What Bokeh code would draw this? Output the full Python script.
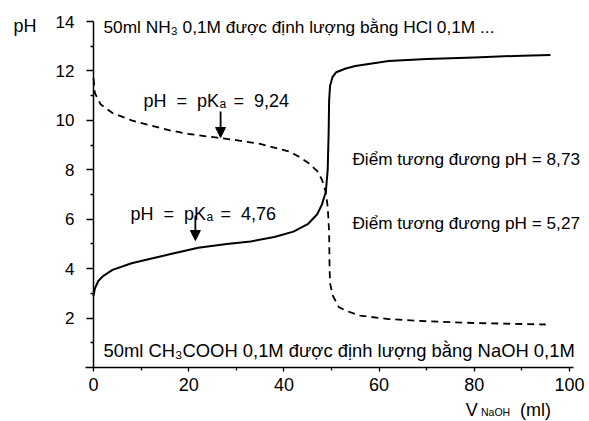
from bokeh.plotting import figure
from bokeh.models import Range1d, FixedTicker, Label, Arrow, NormalHead, ColumnDataSource
from bokeh.embed import file_html
from bokeh.resources import INLINE

# ---- data ----
# CH3COOH 0,1M titrated with NaOH 0,1M (solid)
v_acid = [0, 0.3, 1, 2, 4, 8, 12, 16, 22, 28, 33, 38, 42, 45, 47, 48, 48.8,
          49.2, 49.4, 49.5, 49.7, 50.2, 51, 53, 55, 62, 70, 80, 90, 96]
ph_acid = [2.9, 3.2, 3.5, 3.7, 3.95, 4.22, 4.4, 4.58, 4.85, 5.0, 5.1, 5.28, 5.5,
           5.8, 6.2, 6.6, 7.1, 8.0, 9.5, 10.8, 11.4, 11.75, 11.95, 12.1, 12.2,
           12.4, 12.48, 12.55, 12.62, 12.65]
# NH3 0,1M titrated with HCl 0,1M (dashed)
v_base = [0, 0.3, 1.5, 4, 8, 12, 16, 20, 26, 30, 35, 41, 43, 45, 47, 48, 48.8,
          49.2, 49.5, 49.6, 49.7, 50.3, 51.5, 53, 56, 62, 70, 80, 90, 95]
ph_base = [11.7, 11.1, 10.65, 10.3, 10.0, 9.8, 9.6, 9.45, 9.3, 9.2, 9.05, 8.75,
           8.55, 8.3, 7.95, 7.6, 7.1, 6.5, 5.5, 4.0, 3.4, 2.9, 2.45, 2.3, 2.1,
           1.96, 1.87, 1.8, 1.76, 1.74]
x_ticks = [0, 20, 40, 60, 80, 100]
x_minor = [10, 30, 50, 70, 90]
y_ticks = [2, 4, 6, 8, 10, 12, 14]
y_minor = [1, 3, 5, 7, 9, 11, 13]

FONT = "Liberation Sans"
NB = "\u00a0"
PX_X = 4.76   # pixels per ml
PX_Y = 24.71  # pixels per pH unit

p = figure(width=589, height=421, output_backend="svg", toolbar_location=None,
           title=None,
           x_range=Range1d(-93 / PX_X, (589 - 93) / PX_X),
           y_range=Range1d(-(421 - 367) / PX_Y, 367 / PX_Y),
           min_border_left=0, min_border_right=0, min_border_top=0,
           min_border_bottom=0)
p.outline_line_color = None
p.grid.visible = False
p.background_fill_color = "white"
p.border_fill_color = "white"

for ax in (p.xaxis[0], p.yaxis[0]):
    ax.fixed_location = 0
    ax.axis_line_color = "black"
    ax.axis_line_width = 1.5
    ax.major_tick_line_color = "black"
    ax.minor_tick_line_color = "black"
    ax.major_tick_line_width = 1.3
    ax.minor_tick_line_width = 1.3
    ax.major_tick_in = 0
    ax.minor_tick_in = 0
    ax.major_label_text_font = FONT
    ax.major_label_text_color = "black"

p.xaxis.bounds = (-1.7, 100.8)
p.yaxis.bounds = (0, 14)
p.xaxis.ticker = FixedTicker(ticks=x_ticks, minor_ticks=x_minor)
p.yaxis.ticker = FixedTicker(ticks=y_ticks, minor_ticks=y_minor)
p.xaxis.major_tick_out = 4
p.xaxis.minor_tick_out = 3
p.yaxis.major_tick_out = 7
p.yaxis.minor_tick_out = 3
p.xaxis.major_label_standoff = 6
p.yaxis.major_label_standoff = 12
p.xaxis.major_label_text_font_size = "18px"
p.yaxis.major_label_text_font_size = "17px"

src_a = ColumnDataSource(dict(v=v_acid, ph=ph_acid))
src_b = ColumnDataSource(dict(v=v_base, ph=ph_base))
p.line("v", "ph", source=src_a, line_color="black", line_width=2)
p.line("v", "ph", source=src_b, line_color="black", line_width=1.8, line_dash="7 5")

def lab(x, y, text, size="17px", align="left"):
    p.add_layout(Label(x=x, y=y, text=text, text_font=FONT, text_font_size=size,
                       text_color="black", text_align=align,
                       text_baseline="alphabetic"))

# axis titles
lab(-16.8, 13.84, "pH", size="18px")
lab(78.2, -1.74, "V", size="18px")
lab(81.4, -1.82, "NaOH", size="10.5px")
lab(89.6, -1.74, "(ml)", size="18px")

# curve descriptions
lab(2.1, 13.76, "50ml NH₃ 0,1M được định lượng bằng HCl 0,1M ...", size="17.3px")
lab(2.1, 0.69, "50ml CH₃COOH 0,1M được định lượng bằng NaOH 0,1M", size="18.4px")
lab(54.4, 8.44, "Điểm tương đương pH = 8,73", size="17.2px")
lab(54.4, 5.83, "Điểm tương đương pH = 5,27", size="17.2px")

# pKa annotations
def pka(x0_px, base_y, value):
    x0 = (x0_px - 93) / PX_X
    lab(x0, base_y, "pH " + NB + "= " + NB + "pK", size="18px")
    lab(x0 + 76 / PX_X, base_y - 0.12, "a", size="12px")
    lab(x0 + 85 / PX_X, base_y, NB + "= " + NB + value, size="18px")

pka(143, 10.8, "9,24")
pka(130, 6.22, "4,76")

for xa, y0, y1 in [(26.7, 10.36, 9.31), (21.4, 6.15, 5.14)]:
    p.add_layout(Arrow(end=NormalHead(size=10, fill_color="black", line_color="black"),
                       x_start=xa, y_start=y0, x_end=xa, y_end=y1,
                       line_color="black", line_width=1.8))

open("out.html", "w").write(file_html(p, INLINE))
